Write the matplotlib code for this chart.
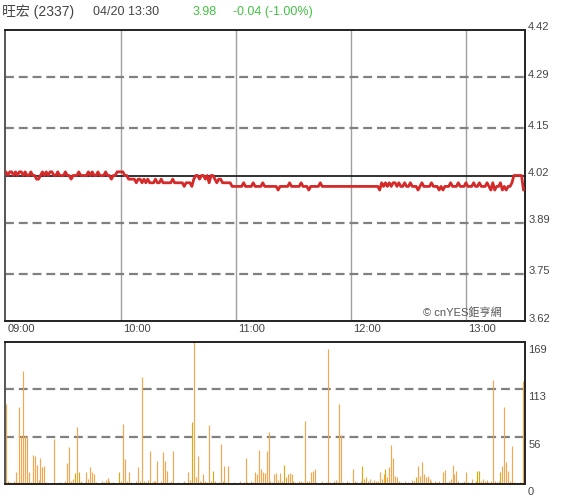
import matplotlib
matplotlib.use("Agg")
import matplotlib.pyplot as plt
from matplotlib.transforms import blended_transform_factory, offset_copy

plt.rcParams['font.family'] = ['Liberation Sans', 'Noto Sans CJK TC', 'DejaVu Sans']

# ---------------- data ----------------
stock_name = "旺宏 (2337)"
stamp = "04/20 13:30"
last_price = "3.98"
change_text = "-0.04 (-1.00%)"
prev_close = 4.02

price_ticks = [4.42, 4.29, 4.15, 4.02, 3.89, 3.75, 3.62]
price_tick_labels = ["4.42", "4.29", "4.15", "4.02", "3.89", "3.75", "3.62"]
vol_ticks = [169, 113, 56, 0]
vol_tick_labels = ["169", "113", "56", "0"]
time_ticks = [0, 60, 120, 180, 240]
time_labels = ["09:00", "10:00", "11:00", "12:00", "13:00"]

# one value per minute, 09:00 .. 13:30
prices = [
    4.03, 4.02, 4.03, 4.03, 4.02, 4.03, 4.02, 4.03, 4.03, 4.02,
    4.03, 4.02, 4.02, 4.03, 4.02, 4.02, 4.01, 4.01, 4.02, 4.03,
    4.02, 4.03, 4.02, 4.03, 4.03, 4.02, 4.02, 4.03, 4.02, 4.02,
    4.02, 4.03, 4.02, 4.02, 4.01, 4.02, 4.02, 4.02, 4.03, 4.02,
    4.02, 4.02, 4.02, 4.03, 4.02, 4.03, 4.02, 4.02, 4.03, 4.02,
    4.02, 4.02, 4.03, 4.02, 4.02, 4.01, 4.02, 4.02, 4.03, 4.03,
    4.03, 4.03, 4.02, 4.02, 4.01, 4.01, 4.01, 4.01, 4.00, 4.01,
    4.01, 4.00, 4.01, 4.00, 4.01, 4.00, 4.00, 4.00, 4.01, 4.00,
    4.00, 4.01, 4.00, 4.00, 4.00, 4.00, 4.00, 4.01, 4.00, 4.00,
    4.00, 4.00, 4.00, 3.99, 4.00, 4.00, 4.00, 3.99, 4.01, 4.02,
    4.02, 4.01, 4.02, 4.02, 4.01, 4.02, 4.00, 4.02, 4.02, 4.01,
    4.00, 4.01, 4.01, 4.00, 4.00, 4.00, 4.00, 4.00, 3.99, 3.99,
    3.99, 3.99, 3.99, 3.99, 4.00, 3.99, 3.99, 3.99, 3.99, 4.00,
    3.99, 3.99, 3.99, 3.99, 4.00, 3.99, 3.99, 3.99, 3.99, 3.99,
    3.99, 3.99, 3.98, 3.99, 3.99, 3.99, 3.99, 3.99, 4.00, 3.99,
    3.99, 3.99, 3.99, 3.99, 4.00, 3.99, 3.99, 3.99, 3.98, 3.99,
    3.99, 3.99, 3.99, 3.99, 4.00, 3.99, 3.99, 3.99, 3.99, 3.99,
    3.99, 3.99, 3.99, 3.99, 3.99, 3.99, 3.99, 3.99, 3.99, 3.99,
    3.99, 3.99, 3.99, 3.99, 3.99, 3.99, 3.99, 3.99, 3.99, 3.99,
    3.99, 3.99, 3.99, 3.99, 3.99, 3.98, 4.00, 3.99, 4.00, 3.99,
    4.00, 3.99, 4.00, 4.00, 3.99, 4.00, 3.99, 3.99, 4.00, 3.99,
    3.99, 4.00, 3.99, 3.99, 3.99, 3.98, 3.99, 4.00, 3.99, 3.99,
    3.99, 3.99, 4.00, 3.99, 3.99, 3.99, 3.98, 3.99, 3.98, 3.99,
    3.99, 3.99, 4.00, 3.99, 3.99, 3.99, 4.00, 3.99, 3.99, 3.99,
    4.00, 3.99, 3.99, 3.99, 4.00, 3.99, 3.99, 4.00, 3.99, 3.99,
    3.99, 4.00, 3.99, 3.98, 4.00, 3.98, 3.99, 3.99, 4.00, 3.98,
    3.99, 3.98, 3.99, 3.99, 4.00, 4.02, 4.02, 4.02, 4.02, 4.02,
    3.98,
]

volumes = [
    95, 3, 2, 1, 4, 14, 2, 92, 57, 135,
    57, 57, 14, 2, 34, 33, 23, 5, 31, 20,
    22, 2, 1, 0, 1, 53, 1, 0, 2, 1,
    0, 3, 25, 44, 3, 6, 13, 68, 14, 3,
    1, 2, 14, 6, 20, 14, 12, 2, 1, 0,
    3, 2, 5, 7, 4, 1, 2, 0, 1, 14,
    3, 72, 30, 3, 14, 2, 1, 0, 3, 20,
    4, 127, 3, 2, 5, 39, 2, 4, 3, 27,
    1, 4, 38, 27, 16, 2, 3, 39, 1, 0,
    2, 1, 0, 3, 1, 14, 5, 74, 169, 8,
    33, 4, 2, 12, 3, 2, 70, 4, 16, 3,
    1, 2, 48, 3, 22, 2, 21, 1, 0, 2,
    0, 1, 3, 0, 2, 31, 2, 1, 4, 2,
    14, 12, 41, 18, 14, 13, 39, 62, 3, 2,
    12, 13, 5, 13, 3, 23, 8, 12, 13, 12,
    3, 2, 1, 4, 3, 2, 75, 3, 4, 14,
    16, 18, 2, 0, 1, 3, 1, 2, 161, 2,
    1, 3, 5, 2, 95, 58, 2, 1, 3, 2,
    1, 18, 4, 2, 1, 3, 22, 6, 8, 4,
    6, 2, 5, 3, 4, 14, 6, 12, 18, 8,
    20, 46, 31, 10, 8, 4, 2, 1, 3, 0,
    2, 1, 5, 3, 8, 22, 9, 26, 12, 8,
    10, 6, 3, 1, 4, 2, 3, 1, 14, 17,
    2, 3, 6, 23, 12, 16, 3, 1, 2, 4,
    14, 2, 1, 6, 1, 3, 16, 16, 3, 6,
    4, 5, 2, 4, 124, 4, 2, 3, 14, 22,
    92, 26, 16, 3, 45, 2, 1, 0, 2, 1,
    122,
]
gold_minutes = [36, 38, 59, 97, 108, 145, 186, 198, 214, 246, 247, 258]

minutes = list(range(len(prices)))

# ---------------- figure ----------------
fig = plt.figure(figsize=(5.8, 5.0), dpi=100)
W, H = 580, 500
def rect(l, t, r, b):
    return [l / W, 1 - b / H, (r - l) / W, (b - t) / H]

ax = fig.add_axes(rect(5, 30, 525, 321))
axv = fig.add_axes(rect(5, 342, 525, 484))

xmin, xmax = -0.5, 270.8

# price panel
for t in time_ticks[1:]:
    ax.axvline(t, color='#a0a0a0', lw=1.0, zorder=1)
for p in price_ticks[1:-1]:
    if abs(p - prev_close) < 1e-9:
        ax.axhline(p, color='#222222', lw=1.3, zorder=2)
    else:
        ax.axhline(p, color='#808080', lw=1.6, ls=(0, (4, 2.2)), zorder=1)
ax.plot(minutes, prices, color='#d42a2a', lw=2.0, zorder=3,
        solid_joinstyle='round', solid_capstyle='round')
ax.set_xlim(xmin, xmax)
ax.set_ylim(3.62, 4.42)
ax.set_xticks([]); ax.set_yticks([])
for s in ax.spines.values():
    s.set_color('#222222'); s.set_linewidth(1.4)
ax.spines['left'].set_color('#555555')

tr = blended_transform_factory(ax.transAxes, ax.transData)
for p, lab in zip(price_ticks, price_tick_labels):
    ax.text(1.006, p, lab, transform=offset_copy(tr, fig=fig, y=2.5, units='dots'),
            ha='left', va='center', fontsize=8, color='#444444')

trx = blended_transform_factory(ax.transData, ax.transAxes)
for t, lab in zip(time_ticks, time_labels):
    ax.text(t, -0.01, lab, transform=offset_copy(trx, fig=fig, x=2, units='dots'),
            ha='left', va='top', fontsize=8, color='#444444')

ax.text(0.955, 0.012, "© cnYES鉅亨網", transform=ax.transAxes, ha='right', va='bottom',
        fontsize=8, color='#555555')

# volume panel
for v in vol_ticks[1:-1]:
    axv.axhline(v, color='#808080', lw=1.6, ls=(0, (4, 2.2)), zorder=1)
cols = ['#dcaa10' if m in gold_minutes else '#f3a850' for m in minutes]
axv.vlines(minutes, 0, volumes, colors=cols, linewidth=0.85, zorder=2)
axv.set_xlim(xmin, xmax)
axv.set_ylim(0, 169)
axv.set_xticks([]); axv.set_yticks([])
for s in axv.spines.values():
    s.set_color('#222222'); s.set_linewidth(1.4)
axv.spines['left'].set_color('#555555')
trv = blended_transform_factory(axv.transAxes, axv.transData)
for v, lab in zip(vol_ticks, vol_tick_labels):
    axv.text(1.006, v, lab, transform=offset_copy(trv, fig=fig, y=-3, units='dots'),
             ha='left', va='top', fontsize=8, color='#444444')

# header
fig.text(2 / W, 1 - 12 / H, stock_name, ha='left', va='center', fontsize=10, color='#444444')
fig.text(93 / W, 1 - 12 / H, stamp, ha='left', va='center', fontsize=9, color='#444444')
fig.text(193 / W, 1 - 12 / H, last_price, ha='left', va='center', fontsize=9, color='#44c044')
fig.text(233 / W, 1 - 12 / H, change_text, ha='left', va='center', fontsize=9, color='#44c044')

fig.savefig("out.png", dpi=100)
